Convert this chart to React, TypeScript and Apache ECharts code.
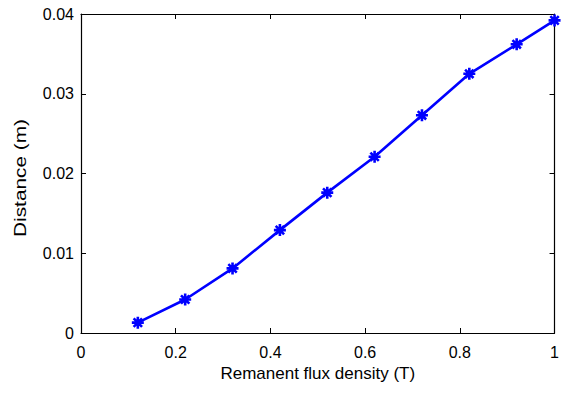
import React, { useEffect, useRef } from "react";
import * as echarts from "echarts";

const fluxDensity = [0.12, 0.22, 0.32, 0.42, 0.52, 0.62, 0.72, 0.82, 0.92, 1.0];
const distance = [0.0013, 0.0042, 0.0081, 0.0129, 0.0176, 0.0221, 0.0273, 0.0325, 0.0362, 0.0392];
const xTicks = [0, 0.2, 0.4, 0.6, 0.8, 1];
const yTicks = [0, 0.01, 0.02, 0.03, 0.04];
const xTitle = "Remanent flux density (T)";
const yTitle = "Distance (m)";

const FONT = "'Liberation Sans', Arial, sans-serif";
const asterisk =
  "path://M0,-10L0,10M-10,0L10,0M-7,-7L7,7M-7,7L7,-7";

export default function App() {
  const ref = useRef<HTMLDivElement>(null);
  useEffect(() => {
    if (!ref.current) return;
    const chart = echarts.init(ref.current, null, { renderer: "svg" });
    const axisLine = { show: true, onZero: false, lineStyle: { color: "#000", width: 1.2 } };
    const axisTick = { show: true, inside: true, length: 5, lineStyle: { color: "#000", width: 1 } };
    const labelStyle = { color: "#000", fontSize: 16, fontFamily: FONT };
    chart.setOption({
      animation: false,
      backgroundColor: "#fff",
      grid: { left: 81, right: 6, top: 14, bottom: 64, containLabel: false },
      xAxis: [
        {
          type: "value",
          position: "bottom",
          min: xTicks[0],
          max: xTicks[xTicks.length - 1],
          interval: 0.2,
          axisLine,
          axisTick,
          splitLine: { show: false },
          axisLabel: { ...labelStyle, margin: 11, formatter: (v: number) => String(+v.toFixed(2)) },
          name: xTitle,
          nameLocation: "middle",
          nameGap: 31,
          nameTextStyle: { color: "#000", fontSize: 17, fontFamily: FONT },
        },
        {
          type: "value",
          position: "top",
          min: xTicks[0],
          max: xTicks[xTicks.length - 1],
          interval: 0.2,
          axisLine,
          axisTick,
          splitLine: { show: false },
          axisLabel: { show: false },
        },
      ],
      yAxis: [
        {
          type: "value",
          position: "left",
          min: yTicks[0],
          max: yTicks[yTicks.length - 1],
          interval: 0.01,
          axisLine,
          axisTick,
          splitLine: { show: false },
          axisLabel: { ...labelStyle, margin: 7, formatter: (v: number) => String(+v.toFixed(3)) },
        },
        {
          type: "value",
          position: "right",
          min: yTicks[0],
          max: yTicks[yTicks.length - 1],
          interval: 0.01,
          axisLine,
          axisTick,
          splitLine: { show: false },
          axisLabel: { show: false },
        },
      ],
      graphic: [
        {
          type: "text",
          x: 20,
          y: 178,
          rotation: Math.PI / 2,
          scaleX: 1.3,
          style: {
            text: yTitle,
            fontSize: 16,
            fontFamily: FONT,
            fill: "#000",
            align: "center",
            verticalAlign: "middle",
          },
        },
      ],
      series: [
        {
          type: "line",
          xAxisIndex: 0,
          yAxisIndex: 0,
          data: fluxDensity.map((x, i) => [x, distance[i]]),
          lineStyle: { color: "#0000ff", width: 2.6 },
          itemStyle: { color: "#0000ff", borderColor: "#0000ff", borderWidth: 2.6 },
          symbol: asterisk,
          symbolSize: 12,
          showSymbol: true,
          clip: false,
        },
      ],
    });
    return () => chart.dispose();
  }, []);
  return (
    <div
      ref={ref}
      style={{ position: "fixed", left: 0, top: 0, width: 562, height: 397 }}
    />
  );
}
